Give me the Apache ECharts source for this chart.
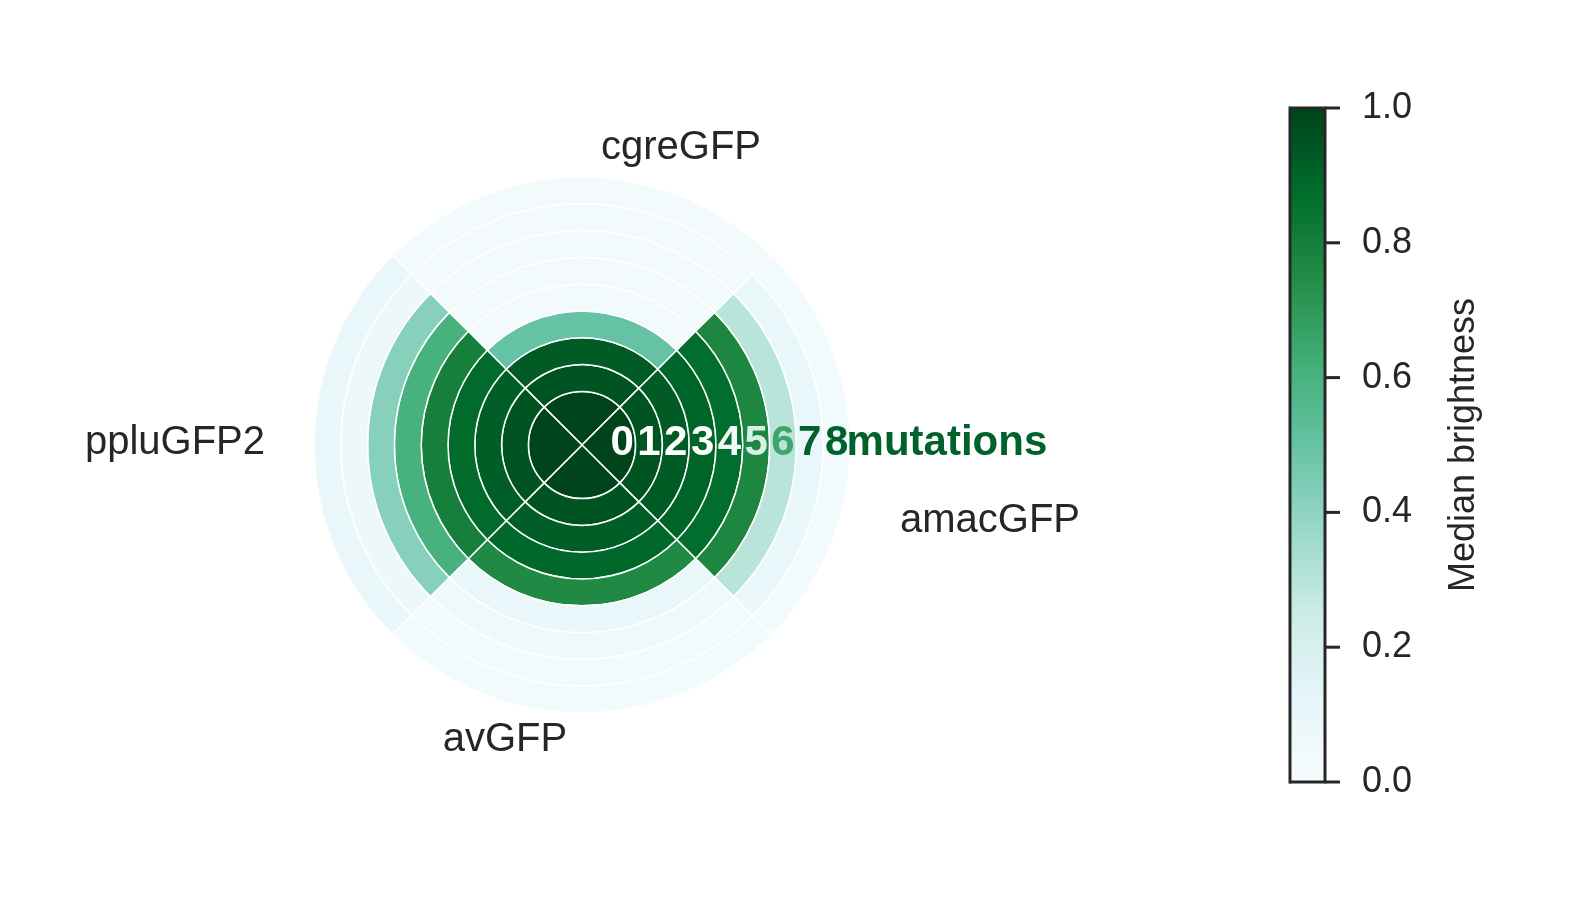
<!DOCTYPE html>
<html>
<head>
<meta charset="utf-8">
<script src="https://cdn.jsdelivr.net/npm/echarts@6/dist/echarts.min.js"></script>
<style>html,body{margin:0;background:#fff}#chart{width:1582px;height:900px}</style>
</head>
<body>
<div id="chart"></div>
<script>
// sectors, clockwise from top
const proteins = ['cgreGFP', 'amacGFP', 'avGFP', 'ppluGFP2'];
const mutations = [0, 1, 2, 3, 4, 5, 6, 7, 8];
// median brightness per mutation count, one array per protein
const cgreGFP = [1.0, 0.95, 0.93, 0.5, 0.03, 0.03, 0.03, 0.03, 0.03];
const amacGFP = [1.0, 0.95, 0.93, 0.9, 0.87, 0.77, 0.3, 0.1, 0.04];
const avGFP = [1.0, 0.95, 0.92, 0.89, 0.76, 0.1, 0.06, 0.04, 0.04];
const ppluGFP2 = [1.0, 0.95, 0.92, 0.88, 0.8, 0.6, 0.42, 0.07, 0.1];
const colorTicks = [0, 0.2, 0.4, 0.6, 0.8, 1.0];

// BuGn colormap
const stops = ['#f7fcfd', '#e5f5f9', '#ccece6', '#99d8c9', '#66c2a4', '#41ae76', '#238b45', '#006d2c', '#00441b'];
const hex = (h) => [1, 3, 5].map(i => parseInt(h.substr(i, 2), 16));
const cmap = (v) => {
    const p = Math.max(0, Math.min(1, v)) * (stops.length - 1);
    const i = Math.min(Math.floor(p), stops.length - 2);
    const t = p - i;
    const a = hex(stops[i]), b = hex(stops[i + 1]);
    return 'rgb(' + a.map((x, k) => Math.round(x + (b[k] - x) * t)).join(',') + ')';
};

const table = [cgreGFP, amacGFP, avGFP, ppluGFP2];
const cx = 582, cy = 445, R = 268, unit = R / 10;
const barTop = 108, barH = 674, barLeft = 1290, barW = 35;

const series = mutations.map((m, mi) => ({
    type: 'bar',
    coordinateSystem: 'polar',
    stack: 'rings',
    barCategoryGap: 0,
    silent: true,
    data: table.map(row => ({
        value: mi === 0 ? 2 : 1,
        itemStyle: {color: cmap(row[mi]), borderColor: '#fff', borderWidth: 1.5}
    }))
}));

// colorbar ticks axis
series.push({type: 'line', xAxisIndex: 0, yAxisIndex: 0, data: [], silent: true});

const digitColors = ['#fff', '#fff', '#fff', '#fff', '#f2faf8', '#d5efe9', '#3fa46a', '#00622a', '#00622a'];
const labelFont = '40px "Liberation Sans"';
const graphics = [
    {type: 'rect', left: barLeft, top: barTop, z: 1, shape: {width: barW, height: barH},
     style: {fill: new echarts.graphic.LinearGradient(0, 1, 0, 0,
         stops.map((c, i) => ({offset: i / (stops.length - 1), color: c})))}},
    {type: 'text', x: 681, y: 148, style: {text: 'cgreGFP', font: labelFont, fill: '#262626', textAlign: 'center', textVerticalAlign: 'middle'}},
    {type: 'text', x: 175, y: 443, style: {text: 'ppluGFP2', font: labelFont, fill: '#262626', textAlign: 'center', textVerticalAlign: 'middle'}},
    {type: 'text', x: 990, y: 521, style: {text: 'amacGFP', font: labelFont, fill: '#262626', textAlign: 'center', textVerticalAlign: 'middle'}},
    {type: 'text', x: 505, y: 740, style: {text: 'avGFP', font: labelFont, fill: '#262626', textAlign: 'center', textVerticalAlign: 'middle'}},
    {type: 'text', x: 1464, y: 445, rotation: Math.PI / 2, style: {text: 'Median brightness', font: '36px "Liberation Sans"', fill: '#262626', textAlign: 'center', textVerticalAlign: 'middle'}}
];
colorTicks.forEach(v => {
    const y = barTop + barH - v * barH;
    graphics.push({type: 'line', z: 20, shape: {x1: barLeft + barW, y1: y, x2: barLeft + barW + 15, y2: y},
        style: {stroke: '#262626', lineWidth: 3}});
});
mutations.forEach((m, i) => {
    graphics.push({type: 'text', x: cx + (i + 1.5) * unit, y: cy - 2, z: 10,
        style: {text: String(m), font: 'bold 42px "Liberation Sans"', fill: digitColors[i], textAlign: 'center', textVerticalAlign: 'middle'}});
});
graphics.push({type: 'text', x: cx + 9.5 * unit + 10, y: cy - 2, z: 10,
    style: {text: 'mutations', font: 'bold 42px "Liberation Sans"', fill: '#00622a', textAlign: 'left', textVerticalAlign: 'middle'}});

const chart = echarts.init(document.getElementById('chart'));
chart.setOption({
    animation: false,
    backgroundColor: '#fff',
    polar: {center: [cx, cy], radius: R},
    angleAxis: {type: 'category', data: proteins, startAngle: 135, clockwise: true,
        axisLine: {show: false}, axisTick: {show: false}, axisLabel: {show: false}, splitLine: {show: false}},
    radiusAxis: {type: 'value', min: 0, max: 10, show: false},
    grid: {left: barLeft, top: barTop, width: barW, height: barH, show: true, borderColor: '#262626', borderWidth: 3, z: 5, backgroundColor: 'transparent'},
    xAxis: {type: 'value', show: false},
    yAxis: {type: 'value', min: 0, max: 1, interval: 0.2, position: 'right',
        axisLine: {show: true, lineStyle: {color: '#262626', width: 3}},
        axisTick: {show: false},
        axisLabel: {fontSize: 36, color: '#262626', fontFamily: 'Liberation Sans', margin: 37, formatter: v => v.toFixed(1)},
        splitLine: {show: false}},
    graphic: graphics,
    series: series
});
</script>
</body>
</html>
